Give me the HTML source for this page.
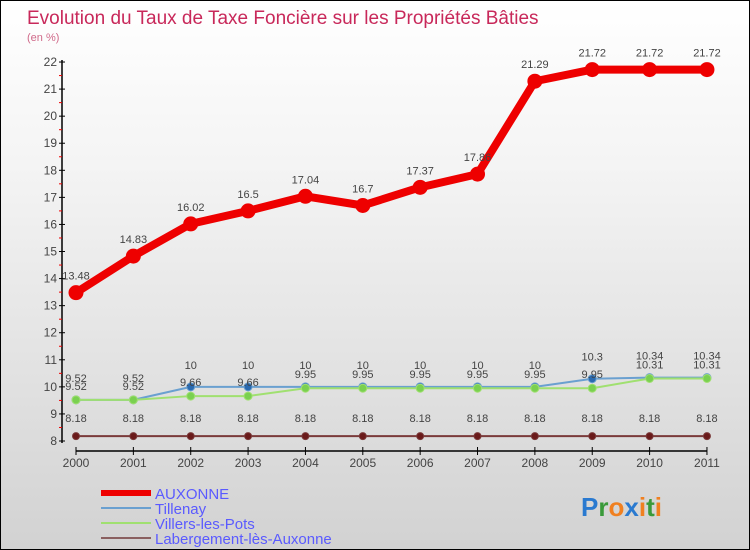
<!DOCTYPE html>
<html><head><meta charset="utf-8"><style>
body{margin:0;}
#wrap{width:748px;height:548px;border:1px solid #000;background:linear-gradient(#ffffff,#f4f4f4 30%,#d2d2d2);position:relative;overflow:hidden;font-family:"Liberation Sans",sans-serif;}
svg{position:absolute;left:0;top:0;}
</style></head><body>
<div id="wrap">
<svg id="c" width="750" height="550">
<text x="26" y="23" font-size="19" fill="#c8285a">Evolution du Taux de Taxe Foncière sur les Propriétés Bâties</text>
<text x="26" y="40" font-size="11" fill="#d06a8a">(en %)</text>
</svg>
</div>
<script>
const years=["2000","2001","2002","2003","2004","2005","2006","2007","2008","2009","2010","2011"];
const auxonne=[13.48,14.83,16.02,16.5,17.04,16.7,17.37,17.86,21.29,21.72,21.72,21.72];
const tillenay=[9.52,9.52,10,10,10,10,10,10,10,10.3,10.34,10.34];
const villers=[9.52,9.52,9.66,9.66,9.95,9.95,9.95,9.95,9.95,9.95,10.31,10.31];
const labergement=[8.18,8.18,8.18,8.18,8.18,8.18,8.18,8.18,8.18,8.18,8.18,8.18];
const yTicks=[8,9,10,11,12,13,14,15,16,17,18,19,20,21,22];
const svg=document.getElementById('c');const NS='http://www.w3.org/2000/svg';
function X(i){return 75+i*57.36;}
function Y(v){return 440-(v-8)*27.07;}
function el(t,a,p){const e=document.createElementNS(NS,t);for(const k in a)e.setAttribute(k,a[k]);(p||svg).appendChild(e);return e;}
// axes
let ax=el('line',{x1:61,y1:59,x2:61,y2:442,stroke:'#000','stroke-width':1.5});


yTicks.forEach(v=>{
 el('line',{x1:58,x2:64,y1:Y(v),y2:Y(v),stroke:'#000'});
 if(v<22)el('line',{x1:58,x2:61,y1:Y(v+0.5),y2:Y(v+0.5),stroke:'#e00'});
 const t=el('text',{x:56,y:Y(v)+4,'text-anchor':'end','font-size':12,fill:'#444'});t.textContent=v;
 
 
});
let xa=el('line',{x1:75,y1:450,x2:X(11),y2:450,stroke:'#000','stroke-width':1.5});


years.forEach((y,i)=>{
 el('line',{x1:X(i),x2:X(i),y1:446,y2:454,stroke:'#000'});
 const t=el('text',{x:X(i),y:466,'text-anchor':'middle','font-size':12,fill:'#444'});t.textContent=y;
 
 
});
function series(data,color,w,r,dot,name,lab){
 const g=el('g',{});
 
 
 el('polyline',{points:data.map((v,i)=>X(i)+','+Y(v)).join(' '),fill:'none',stroke:color,'stroke-width':w,'stroke-linejoin':'round'},g);
 data.forEach((v,i)=>{
  const c=el('circle',{cx:X(i),cy:Y(v),r:r,fill:dot,stroke:color,'stroke-width':1},g);
  
  
  const t=el('text',{x:X(i),y:Y(v)-lab,'text-anchor':'middle','font-size':11,fill:'#444'},g);t.textContent=v;
  
  
 });
}
series(labergement,'#7a3a3a',2,3.5,'#6a1a1a','labergement-line',14);
series(tillenay,'#6aa0d0',2,4,'#2a6ab0','tillenay-line',18);
series(villers,'#a0e070',2,4,'#7ad050','villers-line',10);
series(auxonne,'#ee0000',8,7,'#ee0000','auxonne-line',13);
// legend
const leg=[['AUXONNE','#ee0000',6],['Tillenay','#6aa0d0',2],['Villers-les-Pots','#a0e070',2],['Labergement-lès-Auxonne','#8a6060',2]];
leg.forEach((l,i)=>{
 const y=492+i*15;
 const g=el('g',{});
 
 
 el('line',{x1:100,x2:150,y1:y,y2:y,stroke:l[1],'stroke-width':l[2]},g);
 const t=el('text',{x:154,y:y+6,'font-size':15,fill:'#5a5aff'},g);t.textContent=l[0];
});
const p=el('text',{x:580,y:515,'font-size':26,'font-weight':'bold'});


[['P','#2a7ad0'],['r','#3a9a3a'],['o','#f08020'],['x','#2a7ad0'],['i','#f08020'],['t','#3a9a3a'],['i','#f08020']].forEach(a=>{const s=el('tspan',{fill:a[1]},p);s.textContent=a[0];});
</script>
</body></html>
